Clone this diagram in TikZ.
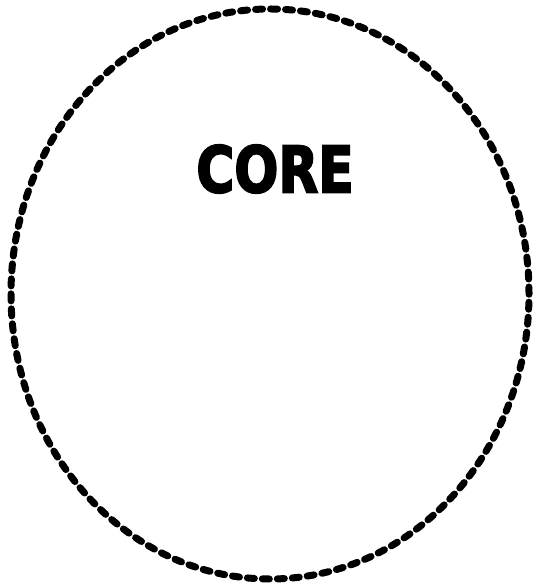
\documentclass[tikz,border=0pt]{standalone}
\usepackage{fontspec}
\usepackage{tikz}
\newfontfamily\corefont[FakeBold=3]{DejaVu Sans Condensed Bold}
\tikzset{
  boundary/.style={draw=black,line width=7pt,line cap=round,
    dash pattern=on 7pt off 8pt},
  bigtitle/.style={font=\corefont\fontsize{64}{64}\selectfont,
    inner sep=0pt,xscale=0.9}
}
\begin{document}
\begin{tikzpicture}
  \useasboundingbox (0,0) rectangle (539pt,585pt);
  \coordinate (core) at (270pt,291pt);
  \draw[boundary] (core) ellipse [x radius=259pt,y radius=285pt];
  \node[bigtitle] (corelabel) at (275pt,416pt) {CORE};
\end{tikzpicture}
\end{document}
